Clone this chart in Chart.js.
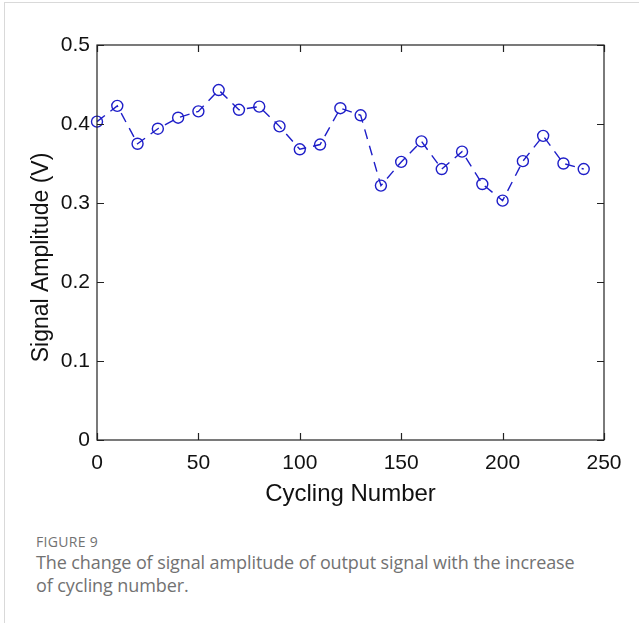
<!DOCTYPE html>
<html>
<head>
<meta charset="utf-8">
<script src="https://cdn.jsdelivr.net/npm/chart.js@4.4.0/dist/chart.umd.min.js"></script>
<style>
    html, body { margin: 0; padding: 0; background: #fff; }
    .panel {
        position: absolute; left: 4px; top: 2px; width: 700px; height: 700px;
        border-left: 1px solid #d9d9d9; border-top: 1px solid #d9d9d9;
    }
    #chart-wrap { position: absolute; left: 0; top: 0; width: 639px; height: 530px; }
    .caption { position: absolute; left: 36px; top: 533px; width: 548px; color: #727272; font-family: "Open Sans", "Noto Sans", sans-serif; }
    .caption .label { font-size: 14px; letter-spacing: 0.3px; line-height: 18px; }
    .caption .text { font-size: 18px; line-height: 23px; letter-spacing: -0.1px; }
</style>
</head>
<body>
<div class="panel"></div>
<div id="chart-wrap"><canvas id="amplitude-chart"></canvas></div>
<div class="caption">
    <div class="label">FIGURE 9</div>
    <div class="text">The change of signal amplitude of output signal with the increase of cycling number.</div>
</div>
<script>
// cycling number and measured signal amplitude (V)
const cycles = [0, 10, 20, 30, 40, 50, 60, 70, 80, 90, 100, 110, 120, 130, 140, 150, 160, 170, 180, 190, 200, 210, 220, 230, 240];
const amplitude = [0.403, 0.423, 0.375, 0.394, 0.408, 0.416, 0.443, 0.418, 0.422, 0.397, 0.368, 0.374, 0.420, 0.411,
    0.322, 0.352, 0.378, 0.343, 0.365, 0.324, 0.303, 0.353, 0.385, 0.350, 0.343];
const xTicks = [0, 50, 100, 150, 200, 250];
const yTicks = [0, 0.1, 0.2, 0.3, 0.4, 0.5];
const yTitle = 'Signal Amplitude (V)';

const lineColor = 'rgb(30, 30, 200)';
const fontFamily = 'Liberation Sans, Arial, sans-serif';
const axisFont = { family: fontFamily, size: 21 };
const titleFont = { family: fontFamily, size: 24 };

// box around the plot with ticks pointing inwards on all four sides,
// plus the rotated y title
const boxTicks = {
    id: 'boxTicks',
    afterDraw(chart) {
        const { ctx, chartArea: a, scales: { x, y } } = chart;
        const len = 7;
        ctx.save();
        ctx.strokeStyle = '#222';
        ctx.lineWidth = 1.2;
        ctx.strokeRect(a.left, a.top, a.right - a.left, a.bottom - a.top);
        ctx.beginPath();
        xTicks.forEach(v => {
            const px = Math.round(x.getPixelForValue(v)) + 0.5;
            ctx.moveTo(px, a.bottom); ctx.lineTo(px, a.bottom - len);
            ctx.moveTo(px, a.top); ctx.lineTo(px, a.top + len);
        });
        yTicks.forEach(v => {
            const py = Math.round(y.getPixelForValue(v)) + 0.5;
            ctx.moveTo(a.left, py); ctx.lineTo(a.left + len, py);
            ctx.moveTo(a.right, py); ctx.lineTo(a.right - len, py);
        });
        ctx.stroke();

        ctx.translate(42, (a.top + a.bottom) / 2 + 15);
        ctx.rotate(-Math.PI / 2);
        ctx.fillStyle = '#111';
        ctx.font = `23px ${fontFamily}`;
        ctx.textAlign = 'center';
        ctx.textBaseline = 'middle';
        ctx.fillText(yTitle, 0, 0);
        ctx.restore();
    }
};

new Chart(document.getElementById('amplitude-chart').getContext('2d'), {
    type: 'line',
    data: {
        datasets: [{
            data: cycles.map((c, i) => ({ x: c, y: amplitude[i] })),
            borderColor: lineColor,
            borderWidth: 1.4,
            borderDash: [10, 7],
            pointStyle: 'circle',
            pointRadius: 5.5,
            pointBorderWidth: 1.4,
            pointBorderColor: lineColor,
            pointBackgroundColor: 'rgba(0,0,0,0)',
            fill: false,
            tension: 0,
            clip: false
        }]
    },
    options: {
        responsive: true,
        maintainAspectRatio: false,
        animation: false,
        layout: { padding: { top: 45, right: 35, left: 0, bottom: 0 } },
        plugins: { legend: { display: false }, tooltip: { enabled: false } },
        scales: {
            x: {
                type: 'linear',
                min: 0, max: 250,
                afterBuildTicks: s => { s.ticks = xTicks.map(v => ({ value: v })); },
                afterFit: s => { s.height = 90; },
                grid: { display: false, drawTicks: false },
                border: { display: false },
                ticks: { color: '#111', font: axisFont, padding: 11, maxRotation: 0 },
                title: { display: true, text: 'Cycling Number', color: '#111', font: titleFont, padding: { top: 6, bottom: 21 } }
            },
            y: {
                min: 0, max: 0.5,
                afterBuildTicks: s => { s.ticks = yTicks.map(v => ({ value: v })); },
                afterFit: s => { s.width = 97; },
                grid: { display: false, drawTicks: false },
                border: { display: false },
                ticks: { color: '#111', font: axisFont, padding: 7, callback: v => String(v) }
            }
        }
    },
    plugins: [boxTicks]
});
</script>
</body>
</html>
